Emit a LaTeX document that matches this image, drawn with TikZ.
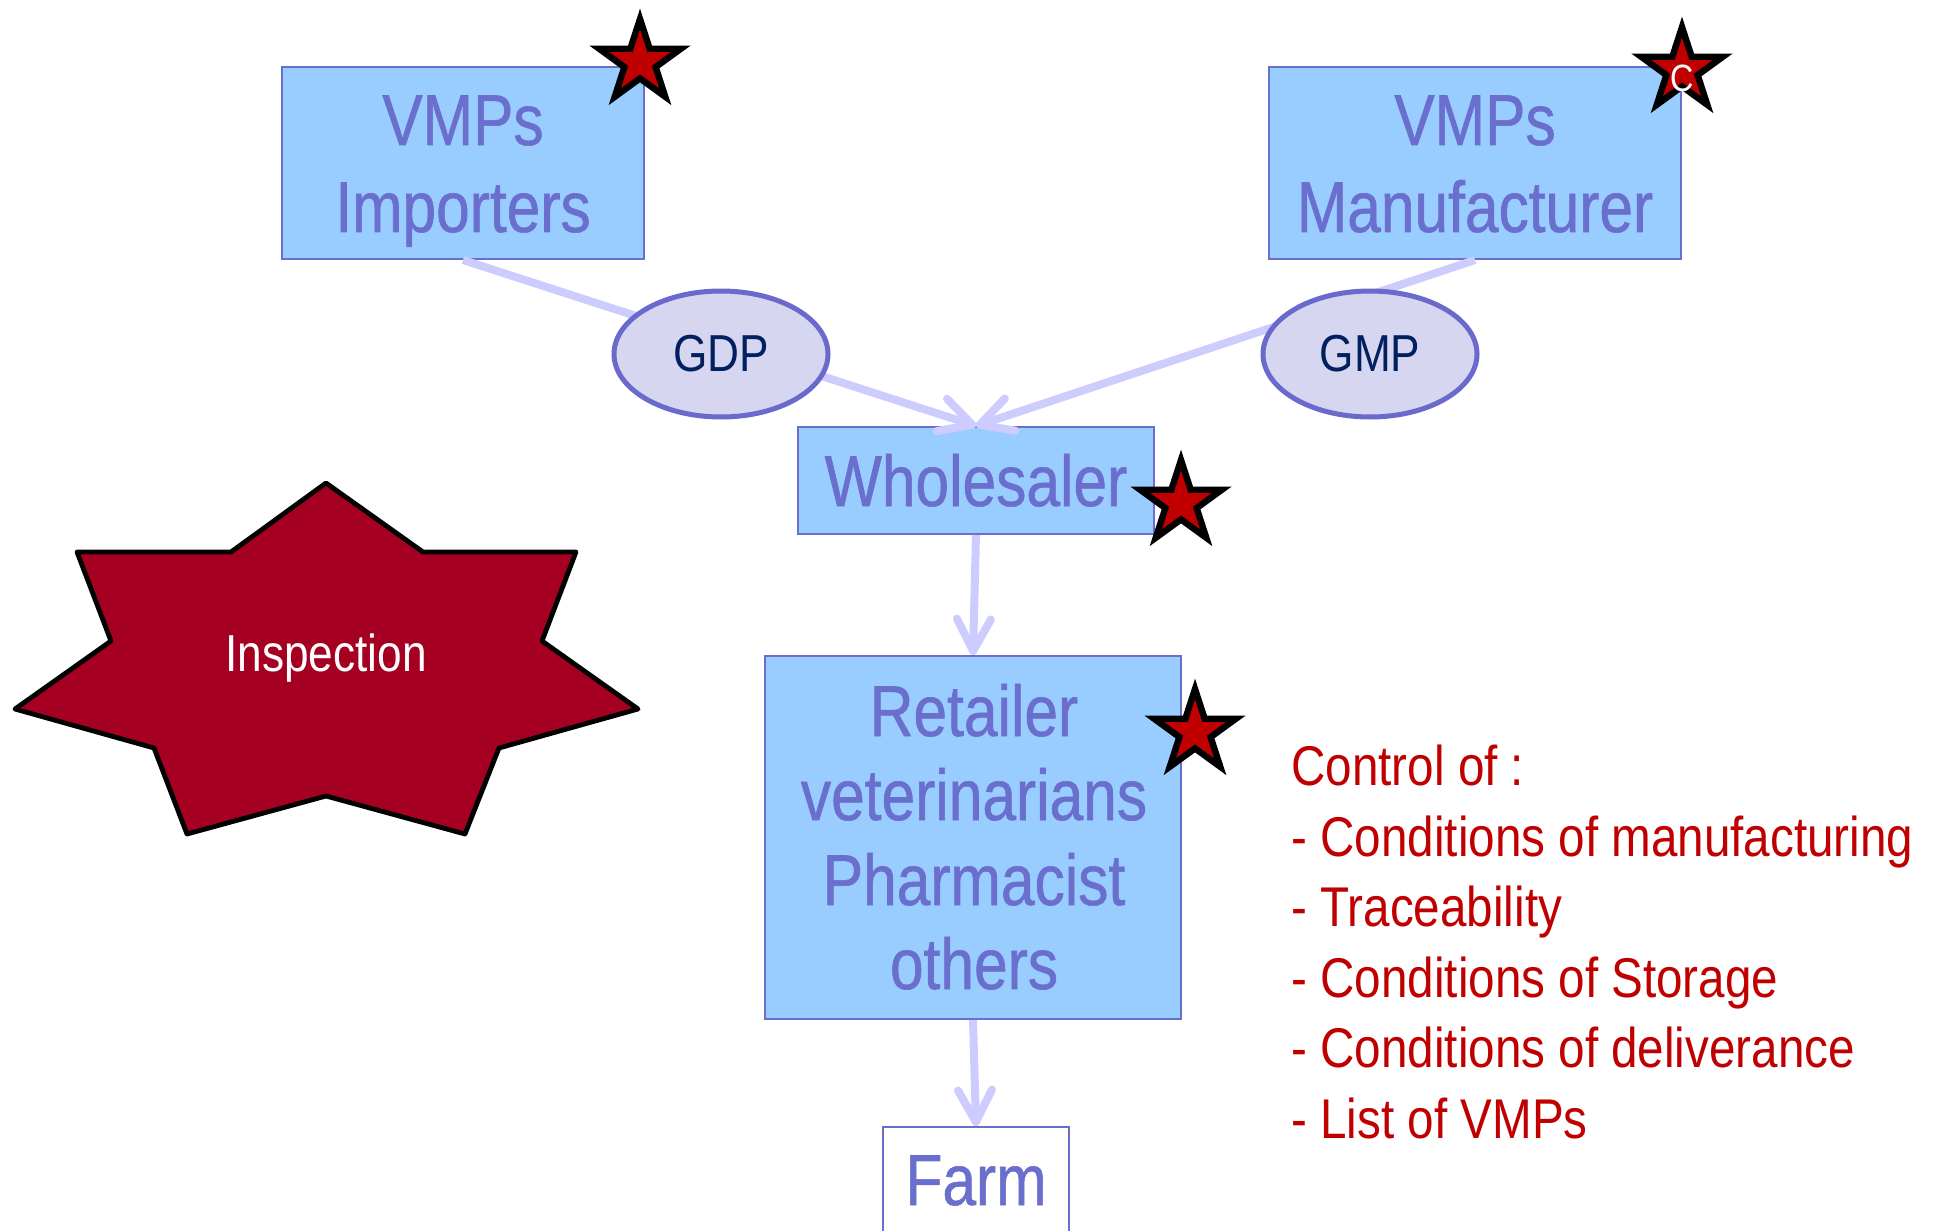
\documentclass[tikz,border=0pt]{standalone}
\usepackage{fontspec}
\setmainfont{Liberation Sans}[FakeStretch=0.85]
\newfontfamily\boxfont{Liberation Sans}[FakeStretch=0.84,FakeBold=0.8]
\usetikzlibrary{arrows.meta,shapes.geometric}
\definecolor{boxfill}{RGB}{153,204,255}
\definecolor{boxline}{RGB}{106,110,204}
\definecolor{ellfill}{RGB}{214,214,240}
\definecolor{ellline}{RGB}{106,106,204}
\definecolor{navy}{RGB}{0,32,96}
\definecolor{arrowc}{RGB}{204,204,255}
\definecolor{starred}{RGB}{192,0,0}
\definecolor{insp}{RGB}{165,0,33}
\definecolor{listred}{RGB}{192,0,0}
\begin{document}
\begin{tikzpicture}[x=0.5pt,y=-0.5pt,
 box/.style={draw=boxline,line width=1pt,fill=boxfill,inner sep=0pt},
 boxtext/.style={text=boxline,font=\boxfont\fontsize{36pt}{42pt}\selectfont,inner sep=0pt,anchor=base},
 oval/.style={ellipse,draw=ellline,line width=2.5pt,fill=ellfill,minimum width=107pt,minimum height=63pt,inner sep=0pt,text=navy,font=\fontsize{26pt}{30pt}\selectfont},
 redstar/.style={star,star points=5,star point ratio=2.618,minimum size=43pt,inner sep=0pt,fill=starred,draw=black,line width=3.2pt},
 flow/.style={draw=arrowc,line width=4pt,-{Straight Barb[length=16pt,width=17pt,round]}},
 listtext/.style={text=listred,font=\fontsize{28pt}{34pt}\selectfont,inner sep=0pt,anchor=base west}
]
\fill[white] (0,0) rectangle (1941,1230);
\useasboundingbox (0,0) rectangle (1941,1230);

% boxes
\node[box,minimum width=181pt,minimum height=96pt] (imp) at (463,163) {};
\node[box,minimum width=206pt,minimum height=96pt] (man) at (1475,163) {};
\node[box,minimum width=178pt,minimum height=53.5pt] (whl) at (976,480.5) {};
\node[box,minimum width=208pt,minimum height=181.5pt] (ret) at (973,837.5) {};
\node[box,fill=white,minimum width=93pt,minimum height=58pt] (farm) at (976,1185) {};

% connectors
\draw[flow] (imp.south) -- (whl.north);
\draw[flow] (man.south) -- (whl.north);
\draw[flow] (whl.south) -- (ret.north);
\draw[flow] (ret.south) -- (farm.north);

% ellipses
\node[oval] (gdp) at (721,354) {GDP};
\node[oval] (gmp) at (1370,354) {GMP};

% box texts
\node[boxtext] (t1) at (463,145) {VMPs};
\node[boxtext] (t2) at (463,232) {Importers};
\node[boxtext] (t3) at (1475,145) {VMPs};
\node[boxtext] (t4) at (1475,232) {Manufacturer};
\node[boxtext] (t5) at (976,506) {Wholesaler};
\node[boxtext] (t6) at (974,736) {Retailer};
\node[boxtext] (t7) at (974,820) {veterinarians};
\node[boxtext] (t8) at (974,905) {Pharmacist};
\node[boxtext] (t9) at (974,989) {others};
\node[boxtext] (t10) at (976,1205) {Farm};

% inspection star
\draw[fill=insp,draw=black,line width=2.4pt,line join=round]
  (326,483) -- (231,552) -- (77,552) -- (111,641) -- (15,709) -- (154,748)
  -- (187,834) -- (326,796) -- (465,834) -- (499,748) -- (638,709)
  -- (542,641) -- (576,552) -- (423,552) -- cycle;
\node[text=white,font=\fontsize{26pt}{30pt}\selectfont,inner sep=0pt,anchor=base] (insptext) at (326,671) {Inspection};

% control list
\node[listtext] (c0) at (1291,785) {Control of :};
\node[listtext] (c1) at (1291,856) {- Conditions of manufacturing};
\node[listtext] (c2) at (1291,926) {- Traceability};
\node[listtext] (c3) at (1291,997) {- Conditions of Storage};
\node[listtext] (c4) at (1291,1067) {- Conditions of deliverance};
\node[listtext] (c5) at (1291,1138) {- List of VMPs};

% red stars
\node[redstar] (s1) at (640,62) {};
\node[redstar] (s2) at (1682,70) {};
\node[text=white,font=\fontsize{19pt}{22pt}\selectfont,inner sep=0pt] (s2c) at (1682,78) {C};
\node[redstar] (s3) at (1181,503) {};
\node[redstar] (s4) at (1195,732) {};
\end{tikzpicture}
\end{document}
